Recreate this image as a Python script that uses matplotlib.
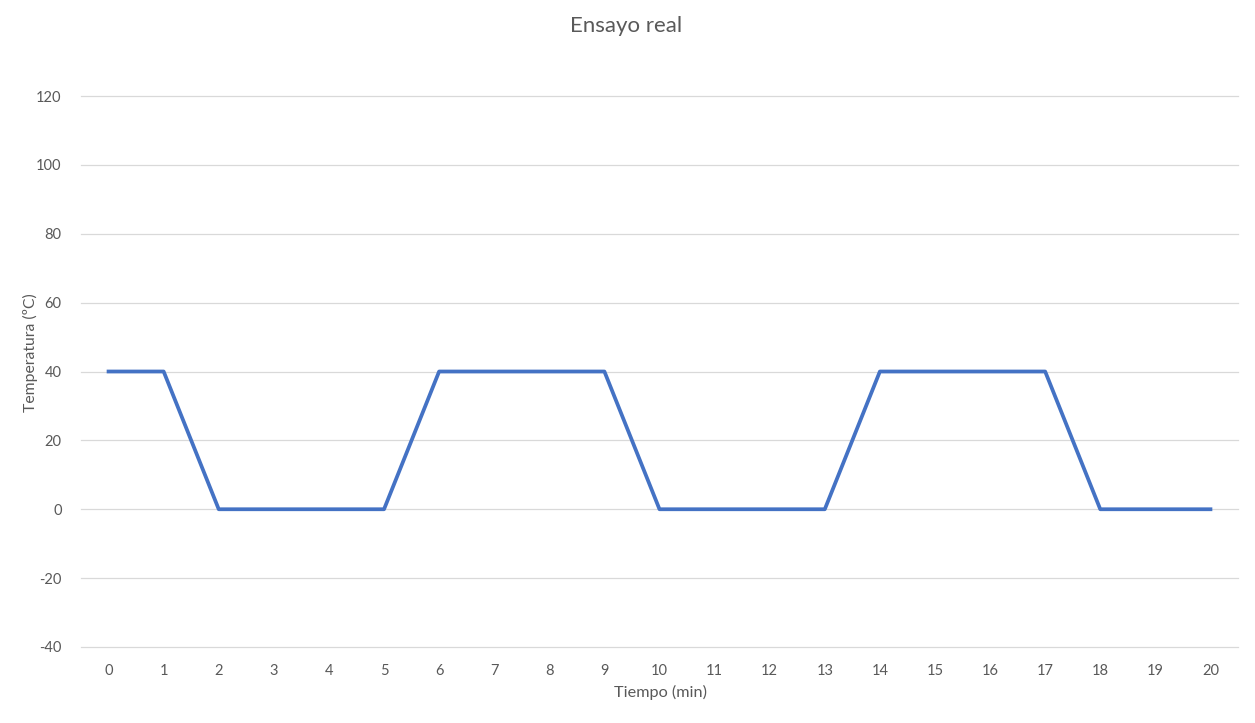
import matplotlib
matplotlib.use("Agg")
import matplotlib.pyplot as plt

plt.rcParams['font.family'] = ['Lato', 'DejaVu Sans']
plt.rcParams['axes.unicode_minus'] = False

tiempo = list(range(0, 21))
temperatura = [40, 40, 0, 0, 0, 0, 40, 40, 40, 40, 0, 0, 0, 0, 40, 40, 40, 40, 0, 0, 0]
yticks = [-40, -20, 0, 20, 40, 60, 80, 100, 120]

fig = plt.figure(figsize=(12.55, 7.23), dpi=100)
ax = fig.add_axes([81/1255, 1-647/723, (1238-81)/1255, (647-96)/723])

for y in yticks:
    ax.axhline(y, color='#d9d9d9', lw=0.9, zorder=1, clip_on=False)

ax.plot(tiempo, temperatura, color='#4472C4', lw=2.7, solid_joinstyle='round', zorder=3)

ax.set_xlim(-0.5, 20.5)
ax.set_ylim(-40, 120)
ax.set_xticks(tiempo)
ax.set_xticklabels([str(t) for t in tiempo])
ax.set_yticks(yticks)
ax.tick_params(axis='both', length=0, labelsize=10.5, colors='#595959')
ax.tick_params(axis='x', pad=12)
ax.tick_params(axis='y', pad=14)
for s in ax.spines.values():
    s.set_visible(False)

fig.text(626/1255, 1-26/723, 'Ensayo real', ha='center', va='center', fontsize=16, color='#595959')
fig.text(660/1255, 1-692/723, 'Tiempo (min)', ha='center', va='center', fontsize=11.7, color='#595959')
fig.text(30/1255, 1-353/723, 'Temperatura (ºC)', ha='center', va='center', rotation=90, fontsize=11.3, color='#595959')

fig.savefig('out.png', dpi=100)
